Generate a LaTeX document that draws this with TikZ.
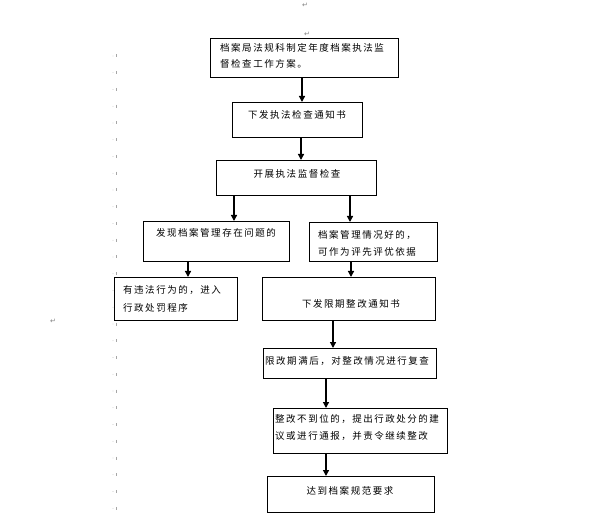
\documentclass[tikz,border=0pt]{standalone}
\usepackage{fontspec}
\newfontfamily\cjk[LetterSpace=16]{Noto Sans CJK SC}
\newfontfamily\symfont{DejaVu Sans}
\usetikzlibrary{arrows.meta}
\tikzset{
  box/.style={draw=black, line width=1.2pt, anchor=north west, inner sep=0pt, fill=white},
  txt/.style={font=\cjk\fontsize{9.5}{12}\selectfont, inner sep=0pt, anchor=base west},
  ctxt/.style={txt, anchor=base},
  arr/.style={line width=1.3pt, -{Triangle[length=6pt,width=6pt]}},
  pmark/.style={font=\symfont\fontsize{7}{7}\selectfont, text=gray, inner sep=0pt},
}
\begin{document}
\begin{tikzpicture}[x=1pt,y=-1pt]
\useasboundingbox (0,0) rectangle (594,529);
% word marks
\node[pmark] (p1) at (305,5) {↵};
\node[pmark] (p2) at (307,34) {↵};
\node[pmark] (p3) at (53,321) {↵};
\foreach \i in {0,...,27}{
  \fill[gray!70] (113,{56+16.75*\i}) circle (0.45pt);
  \draw[gray!70, line width=0.5pt] (116,{54.5+16.75*\i}) -- (116,{57.5+16.75*\i});
}
% boxes
\node[box, minimum width=188pt, minimum height=39pt] (b1) at (210,38) {};
\node[box, minimum width=130pt, minimum height=35pt] (b2) at (232,102) {};
\node[box, minimum width=160pt, minimum height=35pt] (b3) at (216,160) {};
\node[box, minimum width=146pt, minimum height=40pt] (b4) at (143,221) {};
\node[box, minimum width=128pt, minimum height=39pt] (b5) at (309,222) {};
\node[box, minimum width=123pt, minimum height=43pt] (b6) at (114,277) {};
\node[box, minimum width=173pt, minimum height=43pt] (b7) at (262,277) {};
\node[box, minimum width=173pt, minimum height=30pt] (b8) at (263,348) {};
\node[box, minimum width=174pt, minimum height=45pt] (b9) at (273,408) {};
\node[box, minimum width=167pt, minimum height=36pt] (b10) at (267,476) {};
% texts
\node[txt] (t1a) at (220,52) {档案局法规科制定年度档案执法监};
\node[txt] (t1b) at (220,68) {督检查工作方案。};
\node[ctxt] (t2) at (297,119) {下发执法检查通知书};
\node[ctxt] (t3) at (297,178) {开展执法监督检查};
\node[ctxt] (t4) at (216,237) {发现档案管理存在问题的};
\node[txt] (t5a) at (318,239) {档案管理情况好的，};
\node[txt] (t5b) at (318,256) {可作为评先评优依据};
\node[txt] (t6a) at (123,294) {有违法行为的，进入};
\node[txt] (t6b) at (123,311) {行政处罚程序};
\node[ctxt] (t7) at (351,307) {下发限期整改通知书};
\node[txt] (t8) at (265,364) {限改期满后，对整改情况进行复查};
\node[txt] (t9a) at (275,422) {整改不到位的，提出行政处分的建};
\node[txt] (t9b) at (275,439) {议或进行通报，并责令继续整改};
\node[ctxt] (t10) at (350,494) {达到档案规范要求};
% arrows
\draw[arr] (b1.south -| 302,0) -- (b2.north -| 302,0);
\draw[arr] (b2.south -| 301,0) -- (b3.north -| 301,0);
\draw[arr] (b3.south -| 234,0) -- (b4.north -| 234,0);
\draw[arr] (b3.south -| 350,0) -- (b5.north -| 350,0);
\draw[arr] (b4.south -| 188,0) -- (b6.north -| 188,0);
\draw[arr] (b5.south -| 351,0) -- (b7.north -| 351,0);
\draw[arr] (b7.south -| 333,0) -- (b8.north -| 333,0);
\draw[arr] (b8.south -| 326,0) -- (b9.north -| 326,0);
\draw[arr] (b9.south -| 326,0) -- (b10.north -| 326,0);
\end{tikzpicture}
\end{document}
